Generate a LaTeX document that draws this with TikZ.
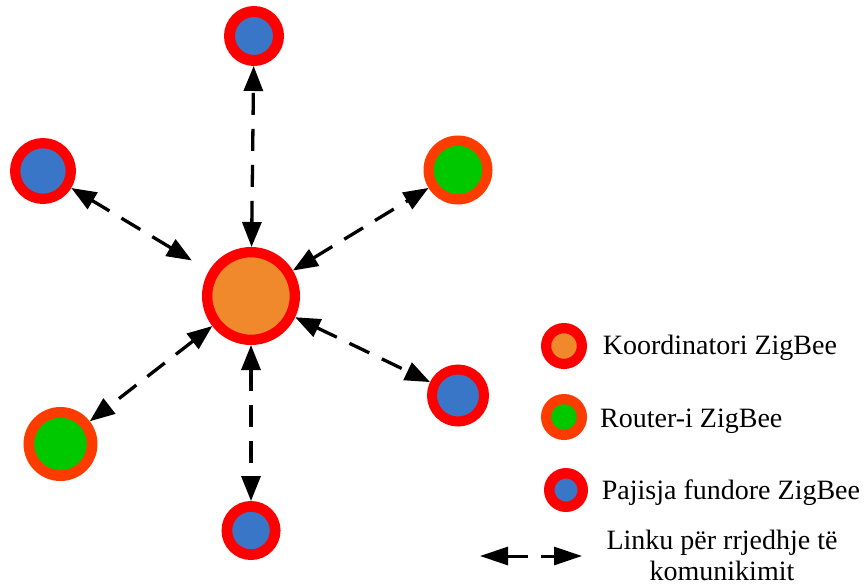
\documentclass[tikz,border=0pt]{standalone}
\usepackage{fontspec}
\setmainfont{Liberation Serif}
\newfontfamily\legendfont{Liberation Serif}
\usetikzlibrary{arrows.meta}

\definecolor{ringred}{RGB}{255,0,0}
\definecolor{ringorange}{RGB}{255,60,0}
\definecolor{coordfill}{RGB}{240,136,44}
\definecolor{endfill}{RGB}{58,118,200}
\definecolor{routerfill}{RGB}{0,200,0}

\tikzset{
  % ring node: #1 ring colour, #2 fill, #3 ring width, #4 size of the stroked circle
  ringnode/.style n args={4}{circle, inner sep=0pt, draw=#1, fill=#2,
    line width=#3, minimum size=#4},
  coordnode/.style 2 args={ringnode={ringred}{coordfill}{#1}{#2}},
  routernode/.style 2 args={ringnode={ringorange}{routerfill}{#1}{#2}},
  endnode/.style 2 args={ringnode={ringred}{endfill}{#1}{#2}},
  link/.style={line width=3.3pt, dash pattern=on 22pt off 14pt,
    {Triangle[length=25pt,width=19pt]}-{Triangle[length=25pt,width=19pt]}},
  legendlink/.style={line width=3pt, dash pattern=on 21pt off 13pt,
    {Triangle[length=28pt,width=18pt]}-{Triangle[length=28pt,width=18pt]}},
  legendtext/.style={inner sep=0pt, font=\legendfont\fontsize{28}{32}\selectfont},
}

\begin{document}
\begin{tikzpicture}[x=1pt, y=-1pt]
  \useasboundingbox (0,0) rectangle (866,586);

  % coordinator in the middle
  \node[coordnode={10.3pt}{87.7pt}] (C) at (251,296) {};

  % devices around it
  \node[endnode={11pt}{49pt}]        (T)  at (254,36)    {};
  \node[endnode={10.3pt}{55.7pt}]    (LT) at (43,171)    {};
  \node[routernode={10.2pt}{58.8pt}] (RT) at (458,170)   {};
  \node[routernode={10.7pt}{63.3pt}] (LB) at (60.5,444)  {};
  \node[endnode={10pt}{52pt}]        (RB) at (458,395.5) {};
  \node[endnode={10.7pt}{48.3pt}]    (B)  at (251,530.5) {};

  % communication links
  \draw[link] (C) -- (T);
  \draw[link, shorten <=20pt] (C) -- (LT);
  \draw[link] (C) -- (RT);
  \draw[link] (C) -- (LB);
  \draw[link] (C) -- (RB);
  \draw[link] (C) -- (B);

  % legend
  \node[coordnode={10.2pt}{35.8pt}]  (K1) at (564,346) {};
  \node[routernode={10.2pt}{35.8pt}] (K2) at (564,417) {};
  \node[endnode={10.5pt}{33.5pt}]    (K3) at (566,490) {};

  \node[legendtext, anchor=base west] (tK) at (602.7,354) {Koordinatori ZigBee};
  \node[legendtext, anchor=base west] (tR) at (600,427)   {Router-i ZigBee};
  \node[legendtext, anchor=base west] (tP) at (601.7,499) {Pajisja fundore ZigBee};

  \coordinate (la) at (480,556);
  \coordinate (lb) at (582,556);
  \draw[legendlink] (la) -- (lb);
  \node[legendtext, anchor=base] (tL1) at (722,549) {Linku për rrjedhje të};
  \node[legendtext, anchor=base] (tL2) at (722,580) {komunikimit};
\end{tikzpicture}
\end{document}
